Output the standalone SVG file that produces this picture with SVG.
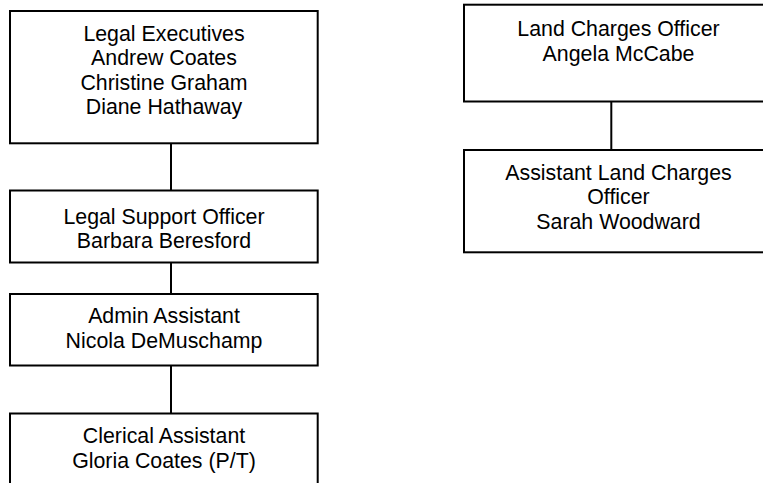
<svg xmlns="http://www.w3.org/2000/svg" width="763" height="483" viewBox="0 0 763 483">
<style>
.box{fill:#fff;stroke:#000;stroke-width:2}
.conn{stroke:#000;stroke-width:2;fill:none}
text{font-family:"Liberation Sans",Arial,sans-serif;font-size:21.33px;fill:#000;text-anchor:middle}
</style>
<rect width="763" height="483" fill="#fff"/>
<g id="connectors">
<line class="conn" x1="171" y1="143.3" x2="171" y2="190.5"/>
<line class="conn" x1="171" y1="262.5" x2="171" y2="294"/>
<line class="conn" x1="171" y1="365.5" x2="171" y2="413.5"/>
<line class="conn" x1="611.3" y1="101.5" x2="611.3" y2="150"/>
</g>
<g id="legal-executives">
<rect class="box" x="10" y="11" width="307.7" height="132.3"/>
<text x="164" y="40.7">Legal Executives</text>
<text x="164" y="65.1">Andrew Coates</text>
<text x="164" y="89.5">Christine Graham</text>
<text x="164" y="114">Diane Hathaway</text>
</g>
<g id="legal-support-officer">
<rect class="box" x="10" y="190.5" width="307.7" height="72"/>
<text x="164" y="224">Legal Support Officer</text>
<text x="164" y="248.4">Barbara Beresford</text>
</g>
<g id="admin-assistant">
<rect class="box" x="10" y="294" width="307.7" height="71.5"/>
<text x="164" y="323.3">Admin Assistant</text>
<text x="164" y="347.8">Nicola DeMuschamp</text>
</g>
<g id="clerical-assistant">
<rect class="box" x="10" y="413.5" width="307.7" height="80"/>
<text x="164" y="443.3">Clerical Assistant</text>
<text x="164" y="467.8">Gloria Coates (P/T)</text>
</g>
<g id="land-charges-officer">
<rect class="box" x="464" y="4.7" width="308" height="96.8"/>
<text x="618.5" y="36">Land Charges Officer</text>
<text x="618.5" y="60.6">Angela McCabe</text>
</g>
<g id="assistant-land-charges-officer">
<rect class="box" x="464" y="150" width="308" height="102.3"/>
<text x="618.5" y="180">Assistant Land Charges</text>
<text x="618.5" y="204.4">Officer</text>
<text x="618.5" y="228.9">Sarah Woodward</text>
</g>
</svg>
